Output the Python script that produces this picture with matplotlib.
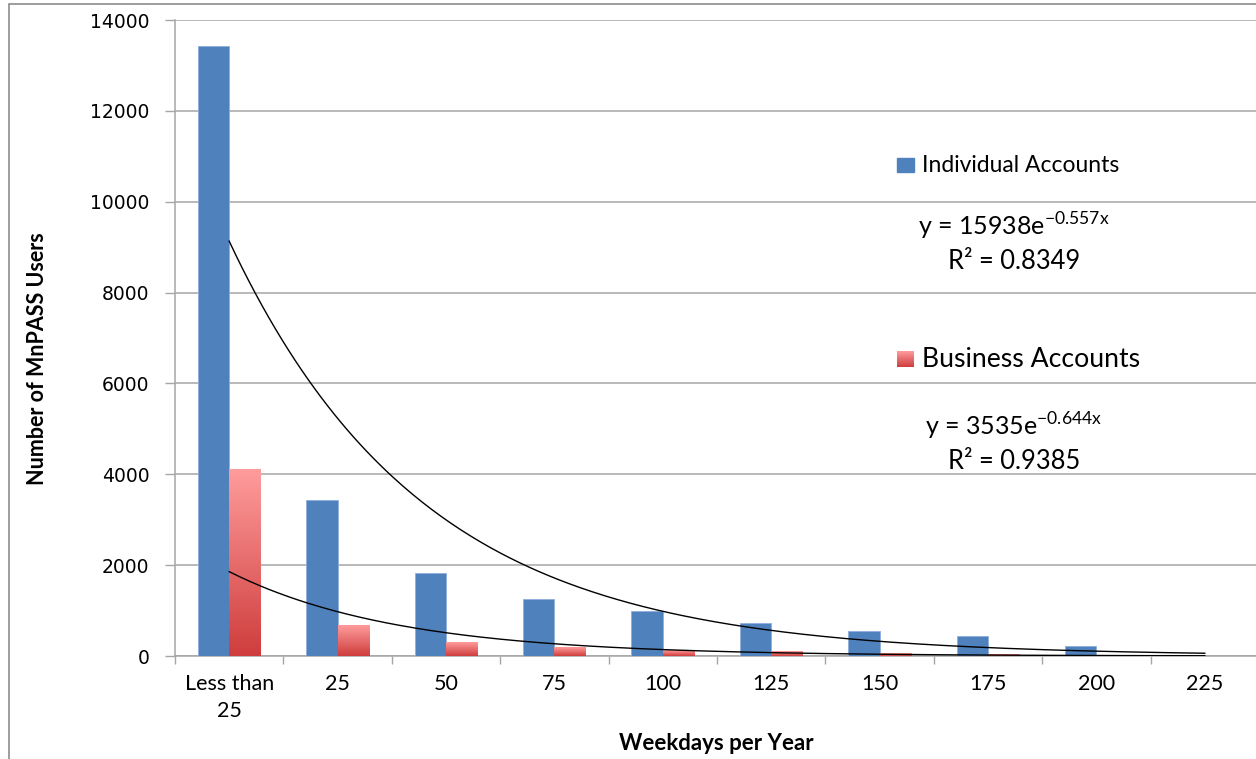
import numpy as np
import matplotlib
matplotlib.use("Agg")
import matplotlib.pyplot as plt
from matplotlib.patches import Rectangle
from matplotlib.colors import LinearSegmentedColormap

plt.rcParams['font.family'] = ['Lato', 'DejaVu Sans']
plt.rcParams['mathtext.fontset'] = 'custom'
plt.rcParams['mathtext.rm'] = 'Lato'

# weekdays per year buckets
categories = ['Less than\n25', '25', '50', '75', '100', '125', '150', '175', '200', '225']
individual = [13430, 3430, 1830, 1265, 980, 725, 555, 435, 215, 0]
business = [4110, 670, 295, 185, 125, 90, 45, 30, 20, 0]

# exponential fits (x = 1..10)
fit_ind = (15938, -0.557, 0.8349)
fit_bus = (3535, -0.644, 0.9385)

W, H = 1256, 759
blue = '#4f81bd'
grid_c = '#a6a6a6'
red_cmap = LinearSegmentedColormap.from_list('redgrad', ['#cf3d3d', '#ff9c9c'])
grad = np.linspace(0, 1, 256).reshape(-1, 1)


def fx(px):
    return px / W


def fy(py):
    return 1 - py / H


fig = plt.figure(figsize=(W / 100, H / 100), dpi=100)
ax = fig.add_axes([fx(175), fy(656), 1084 / W, 636 / H])

x = np.arange(len(categories))
bw = 0.29

ax.bar(x - bw / 2, individual, bw, color=blue, edgecolor='#8eaedb',
       linewidth=0.6, zorder=3)

# business bars: gradient filled rectangles
for xi, v in zip(x, business):
    if v <= 0:
        continue
    ax.imshow(grad, cmap=red_cmap, origin='lower', aspect='auto',
              extent=[xi, xi + bw, 0, v], zorder=3, interpolation='bilinear')

# trendlines
xs = np.linspace(1, 10, 300)
for a, b, _ in (fit_ind, fit_bus):
    ax.plot(xs - 1, a * np.exp(b * xs), color='black', lw=1.0, zorder=4)

ax.set_xlim(-0.5, 9.5)
ax.set_ylim(0, 14000)
ax.set_yticks(np.arange(0, 14001, 2000))
ax.set_yticklabels([str(v) for v in range(0, 14001, 2000)],
                   family='DejaVu Sans', fontsize=13.5)
ax.yaxis.grid(True, color=grid_c, lw=1.1, zorder=0)
ax.set_axisbelow(True)

ax.set_xticks(x)
ax.set_xticklabels(categories, fontsize=15.5, linespacing=1.45)
ax.set_xticks(np.arange(-0.5, 10, 1), minor=True)
ax.tick_params(axis='x', which='major', length=0, pad=13)
ax.tick_params(axis='x', which='minor', length=6, color=grid_c, width=1)
ax.tick_params(axis='y', length=7, color=grid_c, width=1, pad=11.5)

for s in ('top', 'right'):
    ax.spines[s].set_visible(False)
for s in ('left', 'bottom'):
    ax.spines[s].set_color(grid_c)
    ax.spines[s].set_linewidth(1.1)

fig.text(fx(38), fy(359), 'Number of MnPASS Users', rotation=90,
         ha='center', va='center', fontsize=15.5, fontweight='bold')
fig.text(fx(716), fy(744), 'Weekdays per Year', ha='center', va='center',
         fontsize=16, fontweight='bold')

# legend and fit labels
fig.patches.append(Rectangle((fx(897), fy(172)), 17 / W, 14 / H,
                             transform=fig.transFigure, color=blue))
lax = fig.add_axes([fx(897), fy(367), 17 / W, 16 / H])
lax.imshow(grad, cmap=red_cmap, origin='lower', aspect='auto')
lax.axis('off')

fig.text(fx(922), fy(172), 'Individual Accounts', fontsize=16.5, va='baseline')
fig.text(fx(922), fy(367), 'Business Accounts', fontsize=19.2, va='baseline')

for (a, b, r2), yb in ((fit_ind, 236), (fit_bus, 436)):
    fig.text(fx(1014), fy(yb), 'y = %de$^{\\mathrm{%.3fx}}$' % (a, b),
             ha='center', va='baseline', fontsize=18)
    fig.text(fx(1014), fy(yb + 33), 'R² = %.4f' % r2,
             ha='center', va='baseline', fontsize=18.4)

# outer chart border
fig.patches.append(Rectangle((fx(9), -0.01), 1.02, fy(4) + 0.01,
                             transform=fig.transFigure, fill=False,
                             edgecolor='#8c8c8c', lw=1.2))

fig.savefig('out.png', dpi=100)
